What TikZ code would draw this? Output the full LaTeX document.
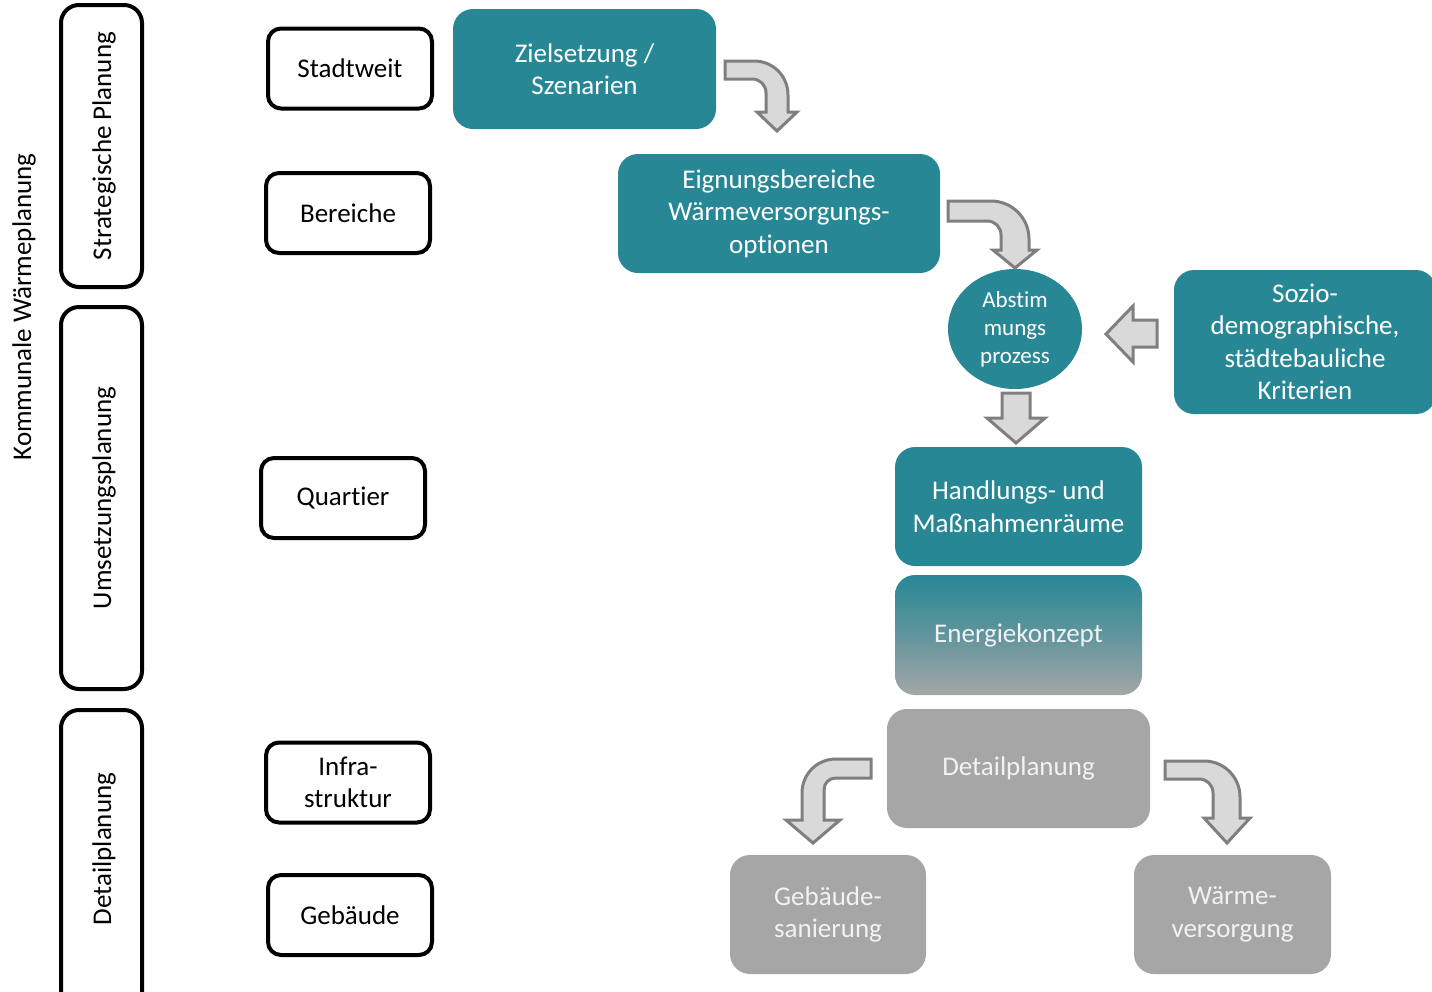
\documentclass[tikz,border=0pt]{standalone}
\usepackage{fontspec}
\setmainfont{Carlito}[Ligatures=NoCommon]
\usetikzlibrary{shapes.geometric}
\definecolor{teal}{HTML}{288795}
\definecolor{boxgray}{HTML}{A6A6A6}
\definecolor{gtext}{HTML}{F2F2F2}
\definecolor{arrfill}{HTML}{D9D9D9}
\definecolor{arrline}{HTML}{7F7F7F}
\tikzset{
  txt/.style={font=\fontsize{27}{32.5}\selectfont, align=center, inner sep=0pt},
  phasebox/.style={draw=black, line width=4pt, rounded corners=18pt, inner sep=0pt},
  levelbox/.style={txt, draw=black, line width=4pt, rounded corners=13pt, minimum width=164pt, minimum height=80pt},
  tealbox/.style={txt, fill=teal, text=white, rounded corners=20pt},
  graybox/.style={txt, fill=boxgray, text=gtext, rounded corners=20pt},
  blockarrow/.style={fill=arrfill, draw=arrline, line width=3pt, line join=miter},
}
\begin{document}
\begin{tikzpicture}[x=1pt,y=-1pt]
\useasboundingbox (0,0) rectangle (1432,991);
\clip (0,0) rectangle (1432,991);

% left labels
\node[txt, rotate=90] (kwp) at (24,307) {Kommunale Wärmeplanung};

\node[phasebox, minimum width=81pt, minimum height=282pt] (p1) at (101.5,146) {};
\node[txt, rotate=90] (p1t) at (104,146) {Strategische Planung};
\node[phasebox, minimum width=81pt, minimum height=382pt] (p2) at (101.5,498) {};
\node[txt, rotate=90] (p2t) at (104,498) {Umsetzungsplanung};
\node[phasebox, minimum width=81pt, minimum height=300pt] (p3) at (101.5,860) {};
\node[txt, rotate=90] (p3t) at (104,849) {Detailplanung};

% level boxes
\node[levelbox] (l1) at (350,68.5) {Stadtweit};
\node[levelbox] (l2) at (348,213) {Bereiche};
\node[levelbox] (l3) at (343,498) {Quartier};
\node[levelbox] (l4) at (348,782.5) {Infra-\\struktur};
\node[levelbox] (l5) at (350,915) {Gebäude};

% teal boxes
\node[tealbox, minimum width=263pt, minimum height=120pt] (ziel) at (584.5,69) {Zielsetzung /\\Szenarien};
\node[tealbox, minimum width=322pt, minimum height=119pt] (eign) at (779,213.5) {Eignungsbereiche\\Wärmeversorgungs-\\optionen};
\node[ellipse, fill=teal, text=white, minimum width=134pt, minimum height=120pt, inner sep=0pt,
      font=\fontsize{23}{28}\selectfont, align=center] (abst) at (1015,329) {Abstim\\mungs\\prozess};
\node[tealbox, minimum width=262pt, minimum height=144pt] (sozio) at (1305,342) {Sozio-\\demographische,\\städtebauliche\\Kriterien};
\node[tealbox, minimum width=247pt, minimum height=119pt] (hand) at (1018.5,506.5) {Handlungs- und\\Maßnahmenräume};
\node[txt, rounded corners=20pt, top color=teal, bottom color=boxgray, middle color=teal!55!boxgray, text=gtext,
      minimum width=247pt, minimum height=120pt] (ener) at (1018.5,635) {Energiekonzept};

% gray boxes
\node[graybox, minimum width=263pt, minimum height=119pt] (detail) at (1018.5,768.5) {Detailplanung};
\node[graybox, minimum width=196pt, minimum height=119pt] (sanier) at (828,914.5) {Gebäude-\\sanierung};
\node[graybox, minimum width=197pt, minimum height=119pt] (wvers) at (1232.5,914.5) {Wärme-\\versorgung};

% block arrows
\draw[blockarrow] (725,61) -- (754,61) .. controls (773,61) and (788,76) .. (788,95) -- (788,112) -- (797,112) -- (777,131)
  -- (757,112) -- (766,112) -- (766,93) .. controls (766,85) and (760,79) .. (752,79) -- (725,79) -- cycle;
\draw[blockarrow] (948,201) -- (991,201) .. controls (1012,201) and (1029,218) .. (1029,239) -- (1029,250) -- (1037,250) -- (1015,268)
  -- (993,250) -- (1001,250) -- (1001,235) .. controls (1001,227) and (995,221) .. (987,221) -- (948,221) -- cycle;
\draw[blockarrow] (1157,320) -- (1133,320) -- (1133,306) -- (1106,334) -- (1133,362) -- (1133,347) -- (1157,347) -- cycle;
\draw[blockarrow] (1002,393) -- (1030,393) -- (1030,418) -- (1045,418) -- (1016,443) -- (987,418) -- (1002,418) -- cycle;
\draw[blockarrow] (871,759) -- (836,759) .. controls (817,759) and (802,774) .. (802,793) -- (802,820) -- (786,820) -- (813,843)
  -- (840,820) -- (824,820) -- (824,790) .. controls (824,783) and (829,778) .. (836,778) -- (871,778) -- cycle;
\draw[blockarrow] (1165,761) -- (1204,761) .. controls (1224,761) and (1240,777) .. (1240,797) -- (1240,818) -- (1250,818) -- (1227,843)
  -- (1204,818) -- (1213,818) -- (1213,793) .. controls (1213,785) and (1207,779) .. (1199,779) -- (1165,779) -- cycle;
\end{tikzpicture}
\end{document}
